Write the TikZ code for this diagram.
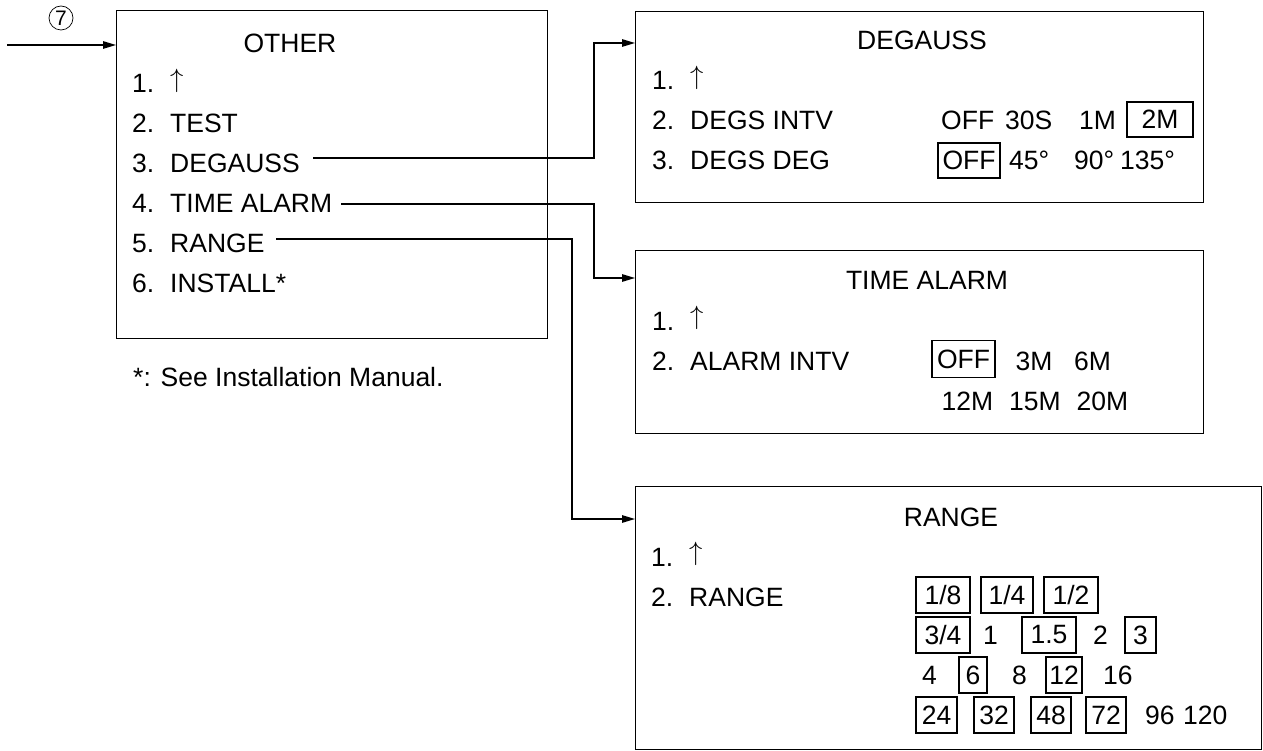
\RequirePackage{fix-cm}
\documentclass[tikz,border=0pt]{standalone}
\usepackage{fontspec}
\setmainfont{Liberation Sans}
\usetikzlibrary{arrows.meta}
\newcommand\sgap{\hspace{0.6em}}
\newcommand\upar{\raisebox{0.19em}{$\uparrow$}}
\begin{document}
\begin{tikzpicture}[x=1pt,y=-1pt,
  every node/.style={font=\fontsize{26.5}{30}\selectfont},
  panel/.style={draw, line width=1.3pt, anchor=north west, inner sep=0pt},
  txt/.style={anchor=base west, inner sep=0pt},
  ttl/.style={anchor=base, inner sep=0pt},
  vbox/.style={draw, line width=1.1pt, inner sep=0pt},
  conn/.style={line width=1.3pt, -{Triangle[length=13pt,width=7.5pt]}},
]
\useasboundingbox (0,0) rectangle (1263,751);

% panels
\node[panel, minimum width=431pt, minimum height=328pt] (other) at (116,10) {};
\node[panel, minimum width=568pt, minimum height=191pt] (dg) at (635,11) {};
\node[panel, minimum width=568pt, minimum height=183pt] (ta) at (635,250) {};
\node[panel, minimum width=626pt, minimum height=263pt] (rg) at (635,486) {};

% incoming
\node[circle, draw, line width=0.7pt, minimum size=24pt, inner sep=0pt, font=\fontsize{21}{22}\selectfont] (c7) at (61,18) {7};
\coordinate (in) at (7,45);
\draw[conn] (in) -- (in -| other.west);

% OTHER panel
\node[ttl] (otitle) at (290,53) {OTHER};
\node[txt] (o1) at (132,93) {1.\sgap\upar};
\node[txt] (o2) at (132,133) {2.\sgap TEST};
\node[txt] (o3) at (132,173) {3.\sgap DEGAUSS};
\node[txt] (o4) at (132,213) {4.\sgap TIME ALARM};
\node[txt] (o5) at (132,253) {5.\sgap RANGE};
\node[txt] (o6) at (132,293) {6.\sgap INSTALL*};
\node[txt] (note) at (133,386) {*: See Installation Manual.};

% connectors
\coordinate (c3) at (313,158);
\coordinate (c4) at (341,204);
\coordinate (c5) at (276,239);
\coordinate (dgin) at ([yshift=-32pt]dg.north west);
\coordinate (tain) at ([yshift=-28pt]ta.north west);
\coordinate (rgin) at ([yshift=-33pt]rg.north west);
\draw[conn] (c3) -| ([xshift=-41pt]dgin) -- (dgin);
\draw[conn] (c4) -| ([xshift=-41pt]tain) -- (tain);
\draw[conn] (c5) -| ([xshift=-63pt]rgin) -- (rgin);

% DEGAUSS panel
\node[ttl] (dtitle) at (922,50) {DEGAUSS};
\node[txt] (d1) at (652,90) {1.\sgap\upar};
\node[txt] (d2) at (652,130) {2.\sgap DEGS INTV};
\node[txt] (d3) at (652,170) {3.\sgap DEGS DEG};
\node[txt] (d2a) at (941,130) {OFF};
\node[txt] (d2b) at (1005,130) {30S};
\node[txt] (d2c) at (1079,130) {1M};
\node[vbox, minimum width=66pt, minimum height=35pt] (d2d) at (1160,119.5) {2M};
\node[vbox, minimum width=62pt, minimum height=35pt] (d3a) at (969,160.5) {OFF};
\node[txt] (d3b) at (1009,170) {45°};
\node[txt] (d3c) at (1074,170) {90°};
\node[txt] (d3d) at (1120,170) {135°};

% TIME ALARM panel
\node[ttl] (ttitle) at (927,290) {TIME ALARM};
\node[txt] (t1) at (652,330) {1.\sgap\upar};
\node[txt] (t2) at (652,370) {2.\sgap ALARM INTV};
\node[vbox, minimum width=63pt, minimum height=37pt] (t2a) at (963.5,359) {OFF};
\node[txt] (t2b) at (1015.5,370) {3M};
\node[txt] (t2c) at (1074,370) {6M};
\node[txt] (t3a) at (941.5,410) {12M};
\node[txt] (t3b) at (1009,410) {15M};
\node[txt] (t3c) at (1076.5,410) {20M};

% RANGE panel
\node[ttl] (rtitle) at (951,526) {RANGE};
\node[txt] (r1) at (651,566) {1.\sgap\upar};
\node[txt] (r2) at (651,606) {2.\sgap RANGE};
% row 1
\node[vbox, minimum width=54pt, minimum height=36pt] (v18) at (943,595) {1/8};
\node[vbox, minimum width=52pt, minimum height=36pt] (v14) at (1007,595) {1/4};
\node[vbox, minimum width=54pt, minimum height=36pt] (v12) at (1071,595) {1/2};
% row 2
\node[vbox, minimum width=54pt, minimum height=36pt] (v34) at (943,635) {3/4};
\node[txt] (v1) at (983,644.5) {1};
\node[vbox, minimum width=54pt, minimum height=36pt] (v15) at (1049,635) {1.5};
\node[txt] (v2) at (1093,644.5) {2};
\node[vbox, minimum width=31pt, minimum height=36pt] (v3) at (1140.5,635) {3};
% row 3
\node[txt] (v4) at (922,684.5) {4};
\node[vbox, minimum width=28pt, minimum height=36pt] (v6) at (973,675) {6};
\node[txt] (v8) at (1012,684.5) {8};
\node[vbox, minimum width=36pt, minimum height=36pt] (v12b) at (1064,675) {12};
\node[txt] (v16) at (1103,684.5) {16};
% row 4
\node[vbox, minimum width=41pt, minimum height=36pt] (v24) at (936.5,715) {24};
\node[vbox, minimum width=40pt, minimum height=36pt] (v32) at (994,715) {32};
\node[vbox, minimum width=40pt, minimum height=36pt] (v48) at (1051,715) {48};
\node[vbox, minimum width=40pt, minimum height=36pt] (v72) at (1106,715) {72};
\node[txt] (v96) at (1145,724.5) {96};
\node[txt] (v120) at (1183,724.5) {120};
\end{tikzpicture}
\end{document}
